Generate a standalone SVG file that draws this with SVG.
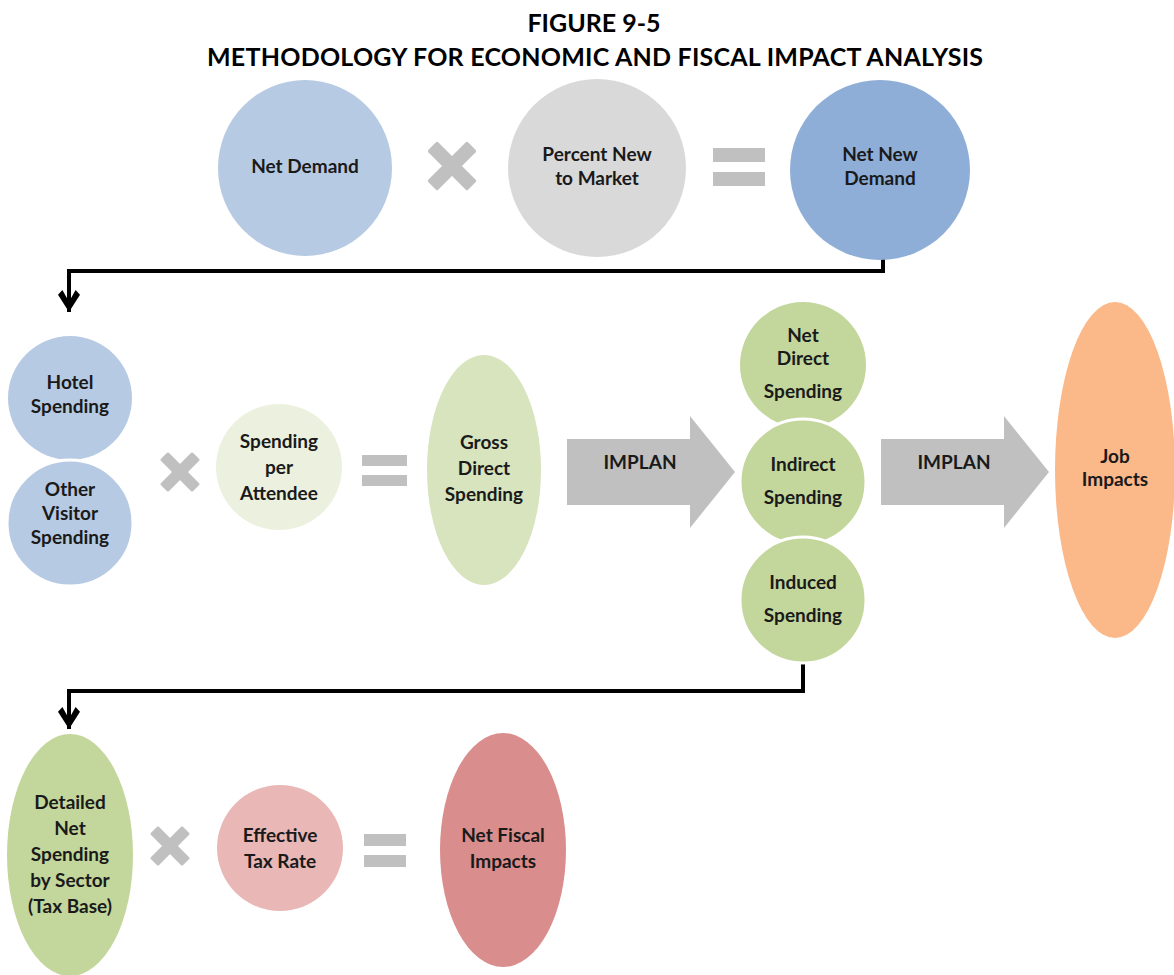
<svg xmlns="http://www.w3.org/2000/svg" width="1174" height="975" viewBox="0 0 1174 975">
  <style>
    .title { font-family: Lato, "Open Sans", "Liberation Sans", sans-serif; font-weight: bold; font-size: 25px; fill: #000; text-anchor: middle; }
    .lbl { font-family: Lato, "Open Sans", "Liberation Sans", sans-serif; font-weight: bold; font-size: 19px; fill: #1a1a1a; text-anchor: middle; }
    .op { fill: #c0c0c0; }
    .conn { fill: none; stroke: #000; stroke-width: 4; }
    .blue { fill: #b7cae3; }
    .blue2 { fill: #8eaed8; }
    .grey { fill: #d9d9d9; }
    .palegreen { fill: #ebf1de; }
    .lgreen { fill: #d7e4bd; }
    .green { fill: #c3d69b; }
    .orange { fill: #fbb889; }
    .pink { fill: #e8b7b6; }
    .red { fill: #d98e8d; }
    .sep { stroke: #fff; stroke-width: 3; }
  </style>
  <defs>
    <!-- thick chevron arrowhead -->
    <marker id="arrow" markerWidth="5.5" markerHeight="5.5" refX="6" refY="3" orient="auto" markerUnits="strokeWidth" viewBox="0 0 6 6">
      <path d="M0,1.2 L1.3,0 L6,3 L1.3,6 L0,4.8 L3.2,3 Z" fill="#000"/>
    </marker>
    <!-- multiply sign -->
    <g id="times">
      <rect x="-9" y="-36" width="18" height="72" rx="2" transform="rotate(45)"/>
      <rect x="-9" y="-36" width="18" height="72" rx="2" transform="rotate(-45)"/>
    </g>
    <!-- IMPLAN block arrow -->
    <path id="bigarrow" d="M0,-33 L123,-33 L123,-56 L168,0 L123,56 L123,33 L0,33 Z"/>
  </defs>

  <rect width="1174" height="975" fill="#fff"/>

  <text class="title" x="594" y="32">FIGURE 9-5</text>
  <text class="title" x="595" y="66" textLength="776" lengthAdjust="spacing">METHODOLOGY FOR ECONOMIC AND FISCAL IMPACT ANALYSIS</text>

  <!-- connectors -->
  <g id="connectors">
    <path class="conn" d="M883,250 V271 H69 V312" marker-end="url(#arrow)"/>
    <path class="conn" d="M803,663 V691 H69 V729" marker-end="url(#arrow)"/>
  </g>

  <!-- row 1 -->
  <g id="net-demand">
    <ellipse class="blue" cx="305" cy="168" rx="87" ry="88"/>
    <text class="lbl" x="305" y="173">Net Demand</text>
  </g>
  <g id="times-1" class="op"><use href="#times" transform="translate(452,166) scale(0.78)"/></g>
  <g id="percent-new">
    <ellipse class="grey" cx="597" cy="168" rx="89" ry="89"/>
    <text class="lbl" x="597" y="161">Percent New</text>
    <text class="lbl" x="597" y="185">to Market</text>
  </g>
  <g id="equals-1" class="op">
    <rect x="713" y="148" width="52" height="14"/>
    <rect x="713" y="172" width="52" height="14"/>
  </g>
  <g id="net-new-demand">
    <ellipse class="blue2" cx="880" cy="170" rx="90" ry="90"/>
    <text class="lbl" x="880" y="161">Net New</text>
    <text class="lbl" x="880" y="185">Demand</text>
  </g>

  <!-- row 2 -->
  <g id="hotel-spending">
    <circle class="blue" cx="70" cy="398" r="62"/>
    <text class="lbl" x="70" y="389">Hotel</text>
    <text class="lbl" x="70" y="413">Spending</text>
  </g>
  <g id="other-visitor-spending">
    <circle class="blue sep" cx="70" cy="523" r="63"/>
    <text class="lbl" x="70" y="496">Other</text>
    <text class="lbl" x="70" y="520">Visitor</text>
    <text class="lbl" x="70" y="544">Spending</text>
  </g>
  <g id="times-2" class="op"><use href="#times" transform="translate(180,472) scale(0.63)"/></g>
  <g id="spending-per-attendee">
    <circle class="palegreen" cx="279" cy="467" r="63"/>
    <text class="lbl" x="279" y="448">Spending</text>
    <text class="lbl" x="279" y="474">per</text>
    <text class="lbl" x="279" y="500">Attendee</text>
  </g>
  <g id="equals-2" class="op">
    <rect x="362" y="455" width="45" height="11"/>
    <rect x="362" y="475" width="45" height="11"/>
  </g>
  <g id="gross-direct-spending">
    <ellipse class="lgreen" cx="484" cy="470" rx="57" ry="115"/>
    <text class="lbl" x="484" y="449">Gross</text>
    <text class="lbl" x="484" y="475">Direct</text>
    <text class="lbl" x="484" y="501">Spending</text>
  </g>
  <g id="implan-1">
    <use href="#bigarrow" class="op" transform="translate(567,472)"/>
    <text class="lbl" x="640" y="469">IMPLAN</text>
  </g>
  <g id="net-direct-spending">
    <circle class="green" cx="803" cy="365" r="63"/>
    <text class="lbl" x="803" y="342">Net</text>
    <text class="lbl" x="803" y="365">Direct</text>
    <text class="lbl" x="803" y="398">Spending</text>
  </g>
  <g id="indirect-spending">
    <circle class="green sep" cx="803" cy="482" r="63"/>
    <text class="lbl" x="803" y="471">Indirect</text>
    <text class="lbl" x="803" y="504">Spending</text>
  </g>
  <g id="induced-spending">
    <circle class="green sep" cx="803" cy="600" r="63"/>
    <text class="lbl" x="803" y="589">Induced</text>
    <text class="lbl" x="803" y="622">Spending</text>
  </g>
  <g id="implan-2">
    <use href="#bigarrow" class="op" transform="translate(881,472)"/>
    <text class="lbl" x="954" y="469">IMPLAN</text>
  </g>
  <g id="job-impacts">
    <ellipse class="orange" cx="1115" cy="470" rx="60" ry="168"/>
    <text class="lbl" x="1115" y="463">Job</text>
    <text class="lbl" x="1115" y="486">Impacts</text>
  </g>

  <!-- row 3 -->
  <g id="detailed-net-spending">
    <ellipse class="green" cx="70" cy="855" rx="63" ry="121"/>
    <text class="lbl" x="70" y="809">Detailed</text>
    <text class="lbl" x="70" y="835">Net</text>
    <text class="lbl" x="70" y="861">Spending</text>
    <text class="lbl" x="70" y="887">by Sector</text>
    <text class="lbl" x="70" y="913">(Tax Base)</text>
  </g>
  <g id="times-3" class="op"><use href="#times" transform="translate(170,846) scale(0.63)"/></g>
  <g id="effective-tax-rate">
    <circle class="pink" cx="280" cy="848" r="63"/>
    <text class="lbl" x="280" y="842">Effective</text>
    <text class="lbl" x="280" y="868">Tax Rate</text>
  </g>
  <g id="equals-3" class="op">
    <rect x="364" y="834" width="42" height="12"/>
    <rect x="364" y="855" width="42" height="12"/>
  </g>
  <g id="net-fiscal-impacts">
    <ellipse class="red" cx="503" cy="850" rx="63" ry="117"/>
    <text class="lbl" x="503" y="842">Net Fiscal</text>
    <text class="lbl" x="503" y="868">Impacts</text>
  </g>
</svg>
